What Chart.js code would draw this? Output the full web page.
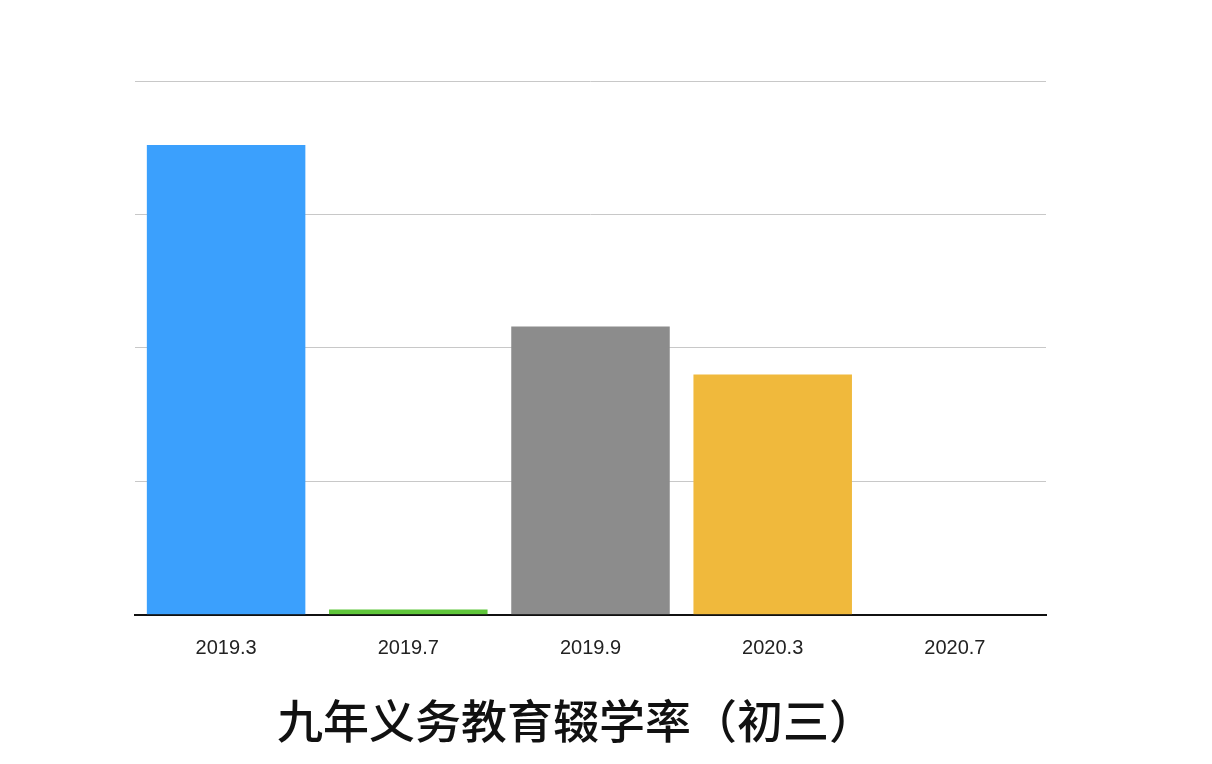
<!DOCTYPE html>
<html>
<head>
<meta charset="utf-8">
<script src="https://cdn.jsdelivr.net/npm/chart.js@4"></script>
<style>
  html, body { margin: 0; padding: 0; background: #fff; }
  #wrap { width: 1212px; height: 764px; }
</style>
</head>
<body>
<div id="wrap"><canvas id="dropChart" width="1212" height="764"></canvas></div>
<script>
const categories = ['2019.3', '2019.7', '2019.9', '2020.3', '2020.7'];
const values = [176, 2, 108, 90, 0];
const barColors = ['#3ba0fd', '#5fc63a', '#8c8c8c', '#f0b93c', '#cccccc'];
const yTicks = [0, 50, 100, 150, 200];

const ctx = document.getElementById('dropChart').getContext('2d');
new Chart(ctx, {
    type: 'bar',
    data: {
        labels: categories,
        datasets: [{
            data: values,
            backgroundColor: barColors,
            barPercentage: 0.87,
            categoryPercentage: 1
        }]
    },
    options: {
        responsive: false,
        animation: false,
        layout: { padding: { top: 81, right: 166, left: 106, bottom: 16 } },
        plugins: {
            legend: { display: false },
            tooltip: { enabled: false },
            title: {
                display: true,
                position: 'bottom',
                text: '九年义务教育辍学率（初三）',
                color: '#111',
                font: { family: 'Noto Sans CJK SC', size: 46, weight: '500' },
                padding: { top: 18, bottom: 0 }
            }
        },
        scales: {
            x: {
                grid: { display: false },
                border: { color: '#111', width: 2 },
                ticks: {
                    color: '#222',
                    padding: 14,
                    font: { family: 'Liberation Sans', size: 20 }
                }
            },
            y: {
                min: 0,
                max: 200,
                afterBuildTicks: axis => { axis.ticks = yTicks.map(v => ({ value: v })); },
                afterFit: axis => { axis.width = 29; },
                border: { display: false },
                grid: {
                    color: c => c.tick.value === 0 ? '#111' : '#c8c8c8',
                    drawTicks: false
                },
                ticks: {
                    color: '#222',
                    padding: 30,
                    font: { family: 'Liberation Sans', size: 20 }
                }
            }
        }
    }
});
</script>
</body>
</html>
